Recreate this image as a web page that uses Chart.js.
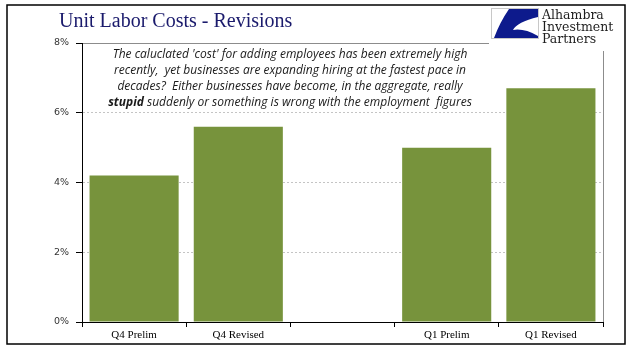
<!DOCTYPE html>
<html>
<head>
<meta charset="utf-8">
<script src="https://cdn.jsdelivr.net/npm/chart.js@4/dist/chart.umd.min.js"></script>
<style>
  html, body { margin: 0; padding: 0; background: #fff; }
  #wrap { width: 641px; height: 350px; position: relative; }
</style>
</head>
<body>
<div id="wrap"><canvas id="ulc"></canvas></div>
<script>
// Unit labor cost estimates, percent
var categories = ['Q4 Prelim', 'Q4 Revised', '', 'Q1 Prelim', 'Q1 Revised'];
var costValues = [4.2, 5.6, null, 5.0, 6.7];
var yMax = 8;
var yStep = 2;

var titleText = 'Unit Labor Costs - Revisions';
var logoLines = ['Alhambra', 'Investment', 'Partners'];
var noteLines = [
    "The caluclated 'cost' for adding employees has been extremely high",
    "recently,  yet businesses are expanding hiring at the fastest pace in",
    "decades?  Either businesses have become, in the aggregate, really",
    [['stupid', true], [' suddenly or something is wrong with the employment  figures', false]]
];

var noteFont = "italic 12px 'Open Sans'";
var noteBold = "italic bold 12px 'Open Sans'";

// frame, title, logo and the text box
var decorPlugin = {
    id: 'decor',
    beforeDraw: function (chart) {
        var ctx = chart.ctx;
        ctx.save();
        ctx.fillStyle = '#fff';
        ctx.fillRect(0, 0, chart.width, chart.height);
        ctx.restore();
    },
    afterDraw: function (chart) {
        var ctx = chart.ctx;
        var area = chart.chartArea;
        ctx.save();

        // right edge of plot
        ctx.strokeStyle = '#8c8c8c';
        ctx.lineWidth = 1;
        ctx.beginPath();
        ctx.moveTo(Math.round(area.right) + 0.5, area.top);
        ctx.lineTo(Math.round(area.right) + 0.5, area.bottom);
        ctx.stroke();

        // outer frame
        ctx.strokeStyle = '#000';
        ctx.lineWidth = 1.5;
        ctx.strokeRect(7, 5, 618, 339);

        // title
        ctx.fillStyle = '#1a1a6c';
        ctx.font = "20px 'Liberation Serif'";
        ctx.textBaseline = 'alphabetic';
        ctx.textAlign = 'left';
        ctx.fillText(titleText, 59, 27);

        // logo block
        ctx.fillStyle = '#fff';
        ctx.fillRect(489, 6, 134, 45);
        ctx.strokeStyle = '#c8c8c8';
        ctx.lineWidth = 1;
        ctx.strokeRect(491.5, 8.5, 47, 30);
        ctx.fillStyle = '#0d1a8c';
        ctx.beginPath();
        ctx.moveTo(509, 9);
        ctx.lineTo(538, 9);
        ctx.lineTo(538, 17);
        ctx.quadraticCurveTo(517, 22, 513, 30);
        ctx.quadraticCurveTo(524, 28, 538, 36);
        ctx.lineTo(538, 38);
        ctx.lineTo(494, 38);
        ctx.quadraticCurveTo(500, 22, 509, 9);
        ctx.closePath();
        ctx.fill();
        ctx.fillStyle = '#1e1e1e';
        ctx.font = "12.5px 'DejaVu Serif'";
        logoLines.forEach(function (s, i) {
            ctx.fillText(s, 542, 19 + i * 12);
        });

        // annotation
        var cx = 290;
        ctx.fillStyle = '#1a1a1a';
        noteLines.forEach(function (line, i) {
            var y = 58 + i * 16;
            if (typeof line === 'string') {
                ctx.font = noteFont;
                ctx.textAlign = 'center';
                ctx.fillText(line, cx, y);
            } else {
                var total = 0;
                line.forEach(function (p) {
                    ctx.font = p[1] ? noteBold : noteFont;
                    total += ctx.measureText(p[0]).width;
                });
                var x = cx - total / 2;
                ctx.textAlign = 'left';
                line.forEach(function (p) {
                    ctx.font = p[1] ? noteBold : noteFont;
                    ctx.fillText(p[0], x, y);
                    x += ctx.measureText(p[0]).width;
                });
            }
        });
        ctx.restore();
    }
};

new Chart(document.getElementById('ulc'), {
    type: 'bar',
    data: {
        labels: categories,
        datasets: [{
            data: costValues,
            backgroundColor: '#77933c',
            borderWidth: 0,
            barPercentage: 0.855,
            categoryPercentage: 1
        }]
    },
    options: {
        responsive: true,
        maintainAspectRatio: false,
        animation: false,
        events: [],
        layout: { padding: { left: 0, right: 38, top: 43, bottom: 0 } },
        plugins: {
            legend: { display: false },
            title: { display: false },
            tooltip: { enabled: false }
        },
        scales: {
            x: {
                grid: {
                    offset: true,
                    drawOnChartArea: false,
                    drawTicks: true,
                    tickLength: 5,
                    tickColor: '#000'
                },
                border: { display: true, color: '#000', width: 1 },
                ticks: {
                    color: '#000',
                    font: { family: "'Liberation Serif'", size: 11 },
                    padding: 2,
                    maxRotation: 0,
                    autoSkip: false
                },
                afterFit: function (scale) { scale.height = 28; }
            },
            y: {
                min: 0,
                max: yMax,
                grid: {
                    color: function (c) {
                        return c.tick && c.tick.value === yMax ? '#8c8c8c' : '#c4c4c4';
                    },
                    tickColor: '#000',
                    tickLength: 6
                },
                border: {
                    display: true,
                    color: '#000',
                    width: 1,
                    dash: function (c) {
                        return c.tick && c.tick.value === yMax ? [] : [2, 2];
                    }
                },
                ticks: {
                    stepSize: yStep,
                    color: '#333',
                    padding: 7,
                    font: { family: "'DejaVu Sans'", size: 9.5 },
                    callback: function (v) { return v + '%'; }
                },
                afterFit: function (scale) { scale.width = 82; }
            }
        }
    },
    plugins: [decorPlugin]
});
</script>
</body>
</html>
